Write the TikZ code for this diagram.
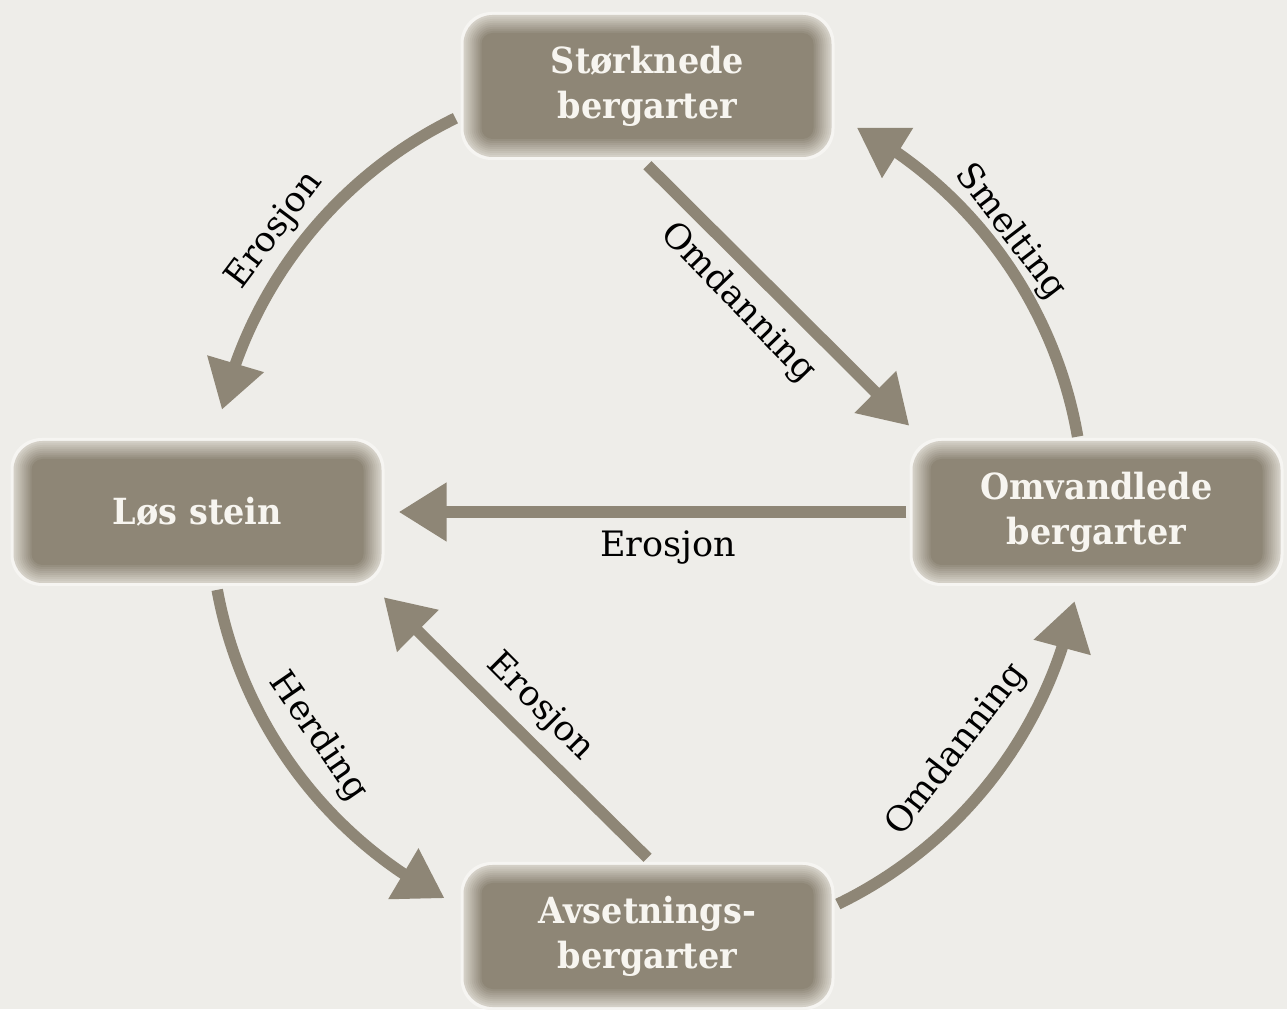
\documentclass[tikz,border=0pt]{standalone}
\usepackage{fontspec}
\setmainfont{DejaVu Serif}
\newfontfamily\boxfont{DejaVu Serif}[FakeStretch=0.93]
\usetikzlibrary{arrows.meta,bending,calc}

\definecolor{paper}{HTML}{EEEDE9}
\definecolor{rock}{HTML}{8E8676}
\definecolor{rim}{HTML}{F6F5F2}
\definecolor{glow}{HTML}{D4D0C7}
\definecolor{boxtext}{HTML}{F7F5F0}

\tikzset{
  rocklabel/.style={text=boxtext, font=\boxfont\bfseries\fontsize{36}{45}\selectfont,
    align=center, minimum width=374pt, minimum height=148pt, inner sep=0pt},
  flow/.style={draw=rock, line width=11.5pt,
    -{Triangle[length=48pt,width=56pt]}},
  steplabel/.style={font=\fontsize{35}{40}\selectfont, text=black, inner sep=0pt},
}

% rounded box with a soft light rim fading into the box colour
\newcommand\rockbox[3]{%
  \begin{scope}[shift={(#2)}]
    \fill[rim, rounded corners=31pt] (-187,-74) rectangle (187,74);
    \foreach \k in {0,...,9}{
      \pgfmathsetmacro\ins{3+2*\k}
      \pgfmathsetmacro\rad{29-2*\k}
      \pgfmathtruncatemacro\mix{100*\k/9}
      \fill[rock!\mix!glow, rounded corners=\rad pt]
        (-187+\ins,-74+\ins) rectangle (187-\ins,74-\ins);
    }
  \end{scope}
  \node[rocklabel] (#1) at (#2) {#3};
}

\begin{document}
\begin{tikzpicture}[x=1pt,y=1pt]
  \fill[paper] (0,0) rectangle (1287,1009);
  \useasboundingbox (0,0) rectangle (1287,1009);

  \coordinate (C) at (647,498);

  \rockbox{sto}{647.5,923}{Størknede\\bergarter}
  \rockbox{los}{197.5,497}{Løs stein}
  \rockbox{omv}{1096.5,497}{Omvandlede\\bergarter}
  \rockbox{avs}{647.5,73}{Avsetnings-\\bergarter}

  % the outer cycle
  \draw[flow] ($(C)+(116:437)$) arc[start angle=116, end angle=166.6, radius=437];
  \draw[flow] ($(C)+(9.8:437)$) arc[start angle=9.8, end angle=61.3, radius=437];
  \draw[flow] ($(C)+(190.4:437)$) arc[start angle=190.4, end angle=242.4, radius=437];
  \draw[flow] ($(C)+(295.9:437)$) arc[start angle=295.9, end angle=348.1, radius=437];

  % straight shortcuts
  \draw[flow] ([yshift=-5pt]sto.south) -- ([yshift=12pt]omv.north west);
  \draw[flow] ([xshift=-3pt]omv.west) -- ([xshift=14pt]los.east);
  \draw[flow] ([yshift=4pt]avs.north) -- ([shift={(-1pt,-11pt)}]los.south east);

  % process labels
  \node[steplabel, rotate=53] (l1) at ($(C)+(143:466)$) {Erosjon};
  \node[steplabel, rotate=-52.5] (l2) at ($(C)+(37.5:458)$) {Smelting};
  \node[steplabel, rotate=-55.5] (l3) at ($(C)+(214.5:399)$) {Herding};
  \node[steplabel, rotate=52.4] (l4) at ($(C)+(-37.6:391)$) {Omdanning};
  \node[steplabel, rotate=-46] (l5) at (738,706) {Omdanning};
  \node[steplabel, rotate=-45] (l6) at (540,302) {Erosjon};
  \node[steplabel, anchor=base] (l7) at (668,452) {Erosjon};
\end{tikzpicture}
\end{document}
